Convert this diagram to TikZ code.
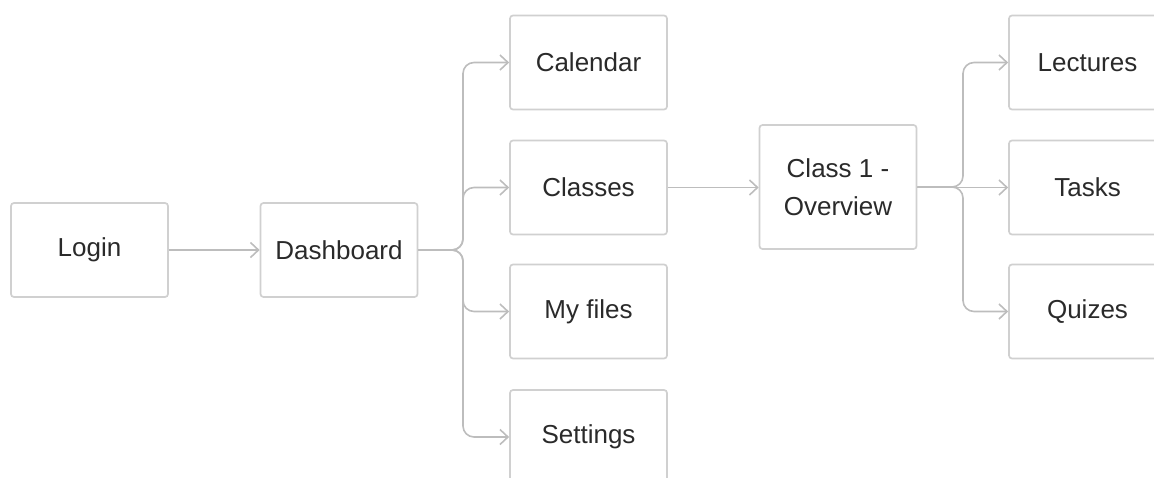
\documentclass[tikz,border=0pt]{standalone}
\usepackage{fontspec}
\setmainfont{Liberation Sans}
\usetikzlibrary{arrows.meta}
\definecolor{boxline}{HTML}{D0D0D0}
\definecolor{conn}{HTML}{BDBDBD}
\definecolor{txt}{HTML}{2A2A2A}
\begin{document}
\begin{tikzpicture}[x=1pt,y=-1pt,
  box/.style={draw=boxline,line width=1.7pt,rounded corners=3pt,minimum width=157pt,minimum height=94pt,
    text=txt,font=\fontsize{26}{38}\selectfont,align=center,inner sep=0pt},
  conn/.style={draw=conn,line width=1.6pt,rounded corners=11pt,-{Straight Barb[length=8pt,width=15pt,line width=1.6pt]}}]
\useasboundingbox (0,0) rectangle (1154,477);
\node[box] (login) at (89.5,250) {Login};
\node[box] (dash) at (339,250) {Dashboard};
\node[box] (cal) at (588.5,62.5) {Calendar};
\node[box] (classes) at (588.5,187.5) {Classes};
\node[box] (files) at (588.5,311.5) {My files};
\node[box] (settings) at (588.5,437) {Settings};
\node[box,minimum height=124pt] (c1) at (838,187) {Class 1 -\\Overview};
\node[box] (lect) at (1087.5,62.5) {Lectures};
\node[box] (tasks) at (1087.5,187.5) {Tasks};
\node[box] (quiz) at (1087.5,311.5) {Quizes};
\coordinate (t1) at (463,250);
\coordinate (t2) at (963,187);
\draw[conn] (login) -- (dash);
\draw[conn] (dash.east) -- (t1) |- (cal.west);
\draw[conn] (dash.east) -- (t1) |- (classes.west);
\draw[conn] (dash.east) -- (t1) |- (files.west);
\draw[conn] (dash.east) -- (t1) |- (settings.west);
\draw[conn] (classes.east) -- (c1.west |- classes.east);
\draw[conn] (c1.east) -- (t2) |- (lect.west);
\draw[conn] (c1.east |- tasks.west) -- (tasks.west);
\draw[conn] (c1.east) -- (t2) |- (quiz.west);
\end{tikzpicture}
\end{document}
